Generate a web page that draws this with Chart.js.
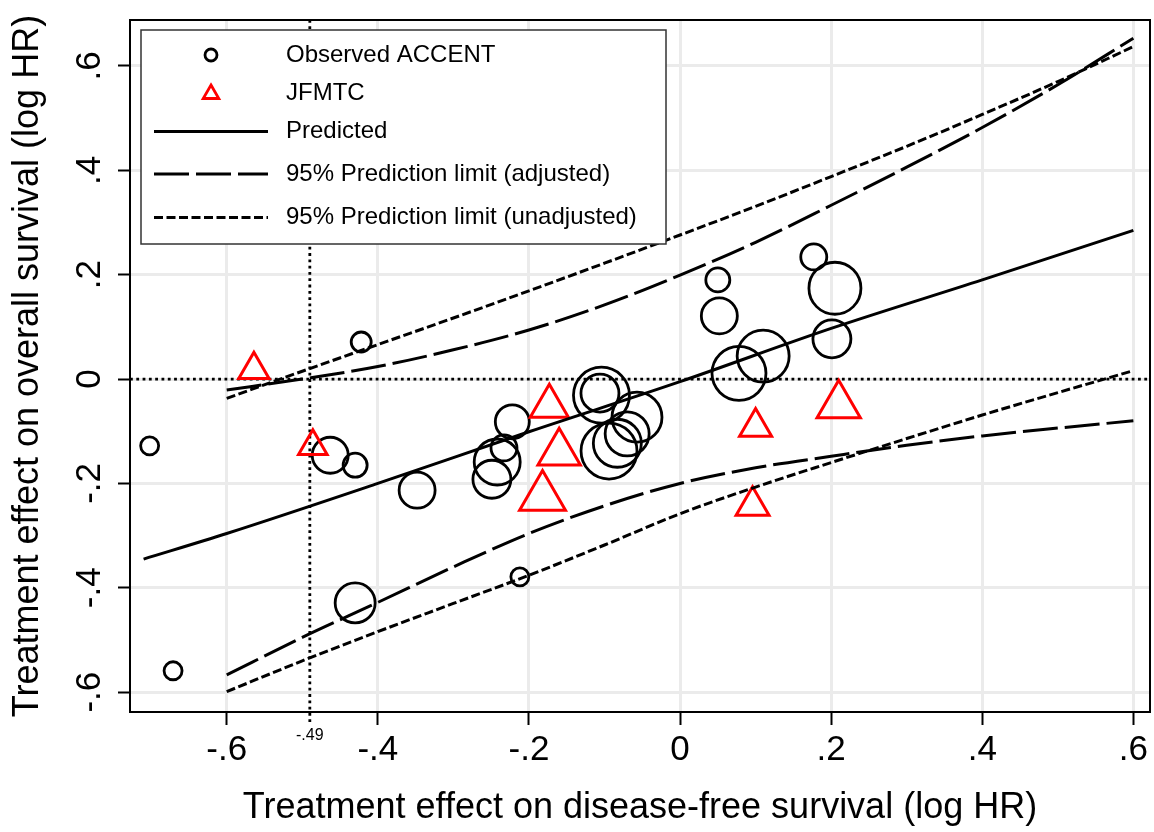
<!DOCTYPE html>
<html>
<head>
<meta charset="utf-8">
<title>Treatment effect: DFS vs OS</title>
<script src="https://cdn.jsdelivr.net/npm/chart.js@4.4.1/dist/chart.umd.min.js"></script>
<style>
  html, body { margin: 0; padding: 0; background: #fff; }
  #wrap { width: 1154px; height: 832px; }
</style>
</head>
<body>
<div id="wrap"><canvas id="chart"></canvas></div>
<script>
// Observed ACCENT trials (log HR on DFS, log HR on OS, relative weight)
const accentX = [-0.702, -0.671, -0.422, -0.463, -0.430, -0.348, -0.430, -0.212, -0.222, -0.233, -0.242, -0.249,
                 -0.104, -0.106, -0.057, -0.070, -0.083, -0.094, 0.050, 0.052, 0.177, 0.205, 0.201, 0.110, 0.078];
const accentY = [-0.128, -0.559, 0.071, -0.146, -0.165, -0.213, -0.429, -0.379, -0.082, -0.132, -0.159, -0.192,
                 -0.031, -0.027, -0.073, -0.105, -0.123, -0.138, 0.190, 0.121, 0.234, 0.174, 0.077, 0.044, 0.011];
const accentWeight = [9, 9, 10, 18, 12, 18, 20, 9, 17, 13, 23, 19,
                      28, 19, 25, 22, 24, 28, 12, 18, 13, 26, 19, 26, 27];

// JFMTC trials
const jfmtcX = [-0.564, -0.486, -0.173, -0.160, -0.182, 0.100, 0.210, 0.096];
const jfmtcY = [0.018, -0.129, -0.052, -0.141, -0.226, -0.092, -0.050, -0.243];
const jfmtcWeight = [17.5, 16.5, 22, 24.5, 26.5, 18.5, 25, 19];

// Predicted line
const predX = [-0.71, -0.6, -0.4, -0.2, 0, 0.2, 0.4, 0.6];
const predY = [-0.345, -0.296, -0.200, -0.101, -0.005, 0.097, 0.190, 0.285];

// 95% prediction limits
const limX = [-0.6, -0.5, -0.4, -0.3, -0.2, -0.1, 0, 0.1, 0.2, 0.3, 0.4, 0.5, 0.6];
const adjUpper = [-0.021, 0.000, 0.024, 0.056, 0.094, 0.142, 0.199, 0.262, 0.333, 0.406, 0.482, 0.564, 0.653];
const adjLower = [-0.567, -0.495, -0.428, -0.360, -0.296, -0.243, -0.200, -0.170, -0.148, -0.127, -0.109, -0.094, -0.080];
const unadjUpper = [-0.037, 0.015, 0.066, 0.117, 0.169, 0.222, 0.276, 0.331, 0.388, 0.446, 0.507, 0.570, 0.637];
const unadjLower = [-0.599, -0.540, -0.484, -0.430, -0.376, -0.318, -0.258, -0.207, -0.160, -0.114, -0.069, -0.026, 0.016];

// axes
const xTicks = [-0.6, -0.4, -0.2, 0, 0.2, 0.4, 0.6];
const xTickLabels = ['-.6', '-.4', '-.2', '0', '.2', '.4', '.6'];
const yTicks = [-0.6, -0.4, -0.2, 0, 0.2, 0.4, 0.6];
const yTickLabels = ['-.6', '-.4', '-.2', '0', '.2', '.4', '.6'];
const refX = -0.49;
const refXLabel = '-.49';
const refY = 0;

const LONG_DASH = [35, 7];
const SHORT_DASH = [9, 3.5];
const GRID = '#ebebeb';

Chart.defaults.font.family = "'Liberation Sans', Arial, Helvetica, sans-serif";
Chart.defaults.color = '#000';

const pts = (xs, ys) => xs.map((x, i) => ({ x: x, y: ys[i] }));
const bubbles = (xs, ys, ws) => xs.map((x, i) => ({ x: x, y: ys[i], r: ws[i] }));

function lineSet(label, xs, ys, dash) {
  return {
    type: 'line', label: label, data: pts(xs, ys),
    borderColor: '#000', borderWidth: 3, borderDash: dash,
    pointRadius: 0, fill: false, cubicInterpolationMode: 'monotone'
  };
}

// dotted reference lines at x = -.49 and y = 0
const refLines = {
  id: 'refLines',
  beforeDatasetsDraw(chart) {
    const { ctx, chartArea: a, scales: { x, y } } = chart;
    const px = x.getPixelForValue(refX);
    const py = y.getPixelForValue(refY);
    ctx.save();
    ctx.strokeStyle = '#000';
    ctx.lineWidth = 2.8;
    ctx.setLineDash([2.8, 3.5]);
    ctx.beginPath();
    ctx.moveTo(a.left, py); ctx.lineTo(a.right, py);
    ctx.moveTo(px, a.top); ctx.lineTo(px, a.bottom + 13);
    ctx.stroke();
    ctx.restore();
  }
};

// plot frame + boxed legend in the upper left corner
const legendItems = [
  { label: 'Observed ACCENT', kind: 'circle', dy: 25 },
  { label: 'JFMTC', kind: 'triangle', dy: 63 },
  { label: 'Predicted', kind: 'line', dash: [], dy: 101.5 },
  { label: '95% Prediction limit (adjusted)', kind: 'line', dash: LONG_DASH, dy: 144 },
  { label: '95% Prediction limit (unadjusted)', kind: 'line', dash: SHORT_DASH, dy: 187.5 }
];

const frameAndLegend = {
  id: 'frameAndLegend',
  afterDatasetsDraw(chart) {
    const { ctx, chartArea: a } = chart;
    ctx.save();
    ctx.strokeStyle = '#000';
    ctx.lineWidth = 2;
    ctx.strokeRect(a.left, a.top, a.right - a.left, a.bottom - a.top);

    const bx = a.left + 11, by = a.top + 10, bw = 525, bh = 214;
    ctx.fillStyle = '#fff';
    ctx.fillRect(bx, by, bw, bh);
    ctx.strokeStyle = '#333';
    ctx.lineWidth = 1.5;
    ctx.strokeRect(bx, by, bw, bh);

    legendItems.forEach(item => {
      const cy = by + item.dy;
      const sx = bx + 70;
      ctx.setLineDash([]);
      if (item.kind === 'circle') {
        ctx.strokeStyle = '#000'; ctx.lineWidth = 2.8;
        ctx.beginPath(); ctx.arc(sx, cy, 6, 0, Math.PI * 2); ctx.stroke();
      } else if (item.kind === 'triangle') {
        const r = 9, c = cy + 1;
        ctx.strokeStyle = '#ff0000'; ctx.lineWidth = 2.8;
        ctx.beginPath();
        ctx.moveTo(sx, c - r);
        ctx.lineTo(sx + r * 0.866, c + r / 2);
        ctx.lineTo(sx - r * 0.866, c + r / 2);
        ctx.closePath(); ctx.stroke();
      } else {
        ctx.strokeStyle = '#000'; ctx.lineWidth = 3;
        ctx.setLineDash(item.dash);
        ctx.beginPath(); ctx.moveTo(bx + 13, cy); ctx.lineTo(bx + 127, cy); ctx.stroke();
      }
      ctx.fillStyle = '#000';
      ctx.font = "24px 'Liberation Sans', Arial, sans-serif";
      ctx.textBaseline = 'middle';
      ctx.textAlign = 'left';
      ctx.fillText(item.label, bx + 145, cy);
    });
    ctx.restore();
  }
};

const isRef = ctx => ctx.tick && ctx.tick.value === refX;

new Chart(document.getElementById('chart'), {
  type: 'bubble',
  data: {
    datasets: [
      lineSet('Predicted', predX, predY, []),
      lineSet('95% Prediction limit (adjusted)', limX, adjUpper, LONG_DASH),
      lineSet('95% Prediction limit (adjusted)', limX, adjLower, LONG_DASH),
      lineSet('95% Prediction limit (unadjusted)', limX, unadjUpper, SHORT_DASH),
      lineSet('95% Prediction limit (unadjusted)', limX, unadjLower, SHORT_DASH),
      {
        label: 'JFMTC', data: bubbles(jfmtcX, jfmtcY, jfmtcWeight),
        pointStyle: 'triangle', borderColor: '#ff0000', backgroundColor: 'rgba(0,0,0,0)', borderWidth: 3
      },
      {
        label: 'Observed ACCENT', data: bubbles(accentX, accentY, accentWeight),
        pointStyle: 'circle', borderColor: '#000', backgroundColor: 'rgba(0,0,0,0)', borderWidth: 2.8
      }
    ]
  },
  options: {
    responsive: true,
    maintainAspectRatio: false,
    animation: false,
    events: [],
    layout: { autoPadding: false, padding: { top: 20, right: 4, left: 0, bottom: 0 } },
    plugins: { legend: { display: false }, tooltip: { enabled: false } },
    scales: {
      x: {
        type: 'linear', min: -0.728, max: 0.622,
        afterBuildTicks: s => { s.ticks = xTicks.concat([refX]).sort((a, b) => a - b).map(v => ({ value: v })); },
        afterFit: s => { s.height = 120; s.paddingLeft = 0; s.paddingRight = 0; },
        ticks: {
          autoSkip: false, minRotation: 0, maxRotation: 0, padding: 4.5,
          font: ctx => isRef(ctx) ? { size: 16, lineHeight: 0.8 } : { size: 35 },
          callback: v => v === refX ? refXLabel : xTickLabels[xTicks.indexOf(v)]
        },
        grid: {
          color: ctx => isRef(ctx) ? 'rgba(0,0,0,0)' : GRID,
          lineWidth: 3,
          tickColor: ctx => isRef(ctx) ? 'rgba(0,0,0,0)' : '#000',
          tickWidth: 2, tickLength: 13
        },
        border: { display: false },
        title: {
          display: true, text: 'Treatment effect on disease-free survival (log HR)',
          font: { size: 36, lineHeight: 1 }, padding: { top: 0, bottom: 6 }
        }
      },
      y: {
        type: 'linear', min: -0.638, max: 0.688,
        afterBuildTicks: s => { s.ticks = yTicks.map(v => ({ value: v })); },
        afterFit: s => { s.width = 130; s.paddingTop = 0; s.paddingBottom = 0; },
        ticks: {
          autoSkip: false, minRotation: 90, maxRotation: 90, crossAlign: 'center', padding: 7.6,
          font: { size: 35 },
          callback: v => yTickLabels[yTicks.indexOf(v)]
        },
        grid: { color: GRID, lineWidth: 3, tickColor: '#000', tickWidth: 2, tickLength: 12 },
        border: { display: false },
        title: {
          display: true, text: 'Treatment effect on overall survival (log HR)',
          font: { size: 36, lineHeight: 1 }, padding: { top: 10, bottom: 0 }
        }
      }
    }
  },
  plugins: [refLines, frameAndLegend]
});
</script>
</body>
</html>
